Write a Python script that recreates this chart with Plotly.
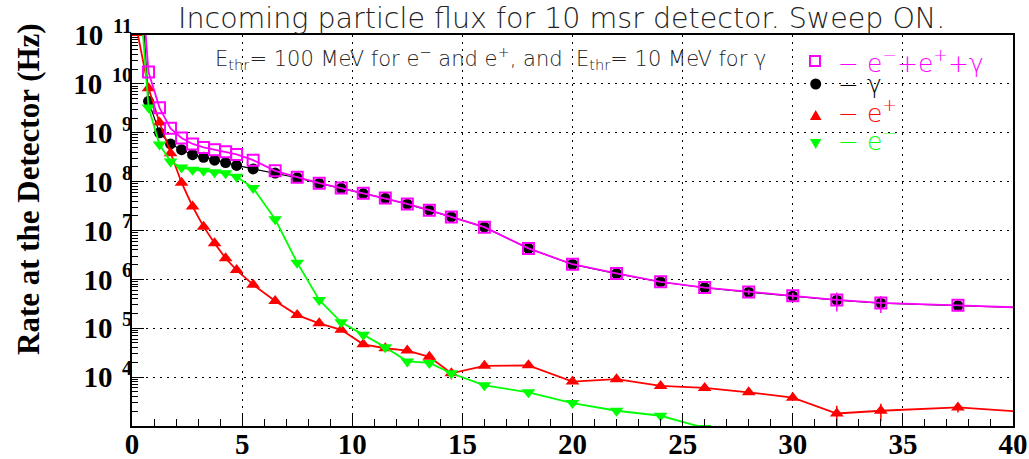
import plotly.graph_objects as go

# ---------------- data ----------------
x_bins = [0.25, 0.75, 1.25, 1.75, 2.25, 2.75, 3.25, 3.75, 4.25, 4.75, 5.5, 6.5, 7.5, 8.5, 9.5,
          10.5, 11.5, 12.5, 13.5, 14.5, 16, 18, 20, 22, 24, 26, 28, 30, 32, 34, 37.5, 42]

rate_total = [1.6e13, 1.74e10, 3.24e9, 1.23e9, 7.8e8, 5.9e8, 5.0e8, 4.5e8, 4.1e8, 3.6e8, 2.75e8,
              1.66e8, 1.23e8, 9.3e7, 7.4e7, 5.75e7, 4.6e7, 3.5e7, 2.6e7, 1.9e7, 1.17e7, 4.3e6,
              2.04e6, 1.32e6, 8.9e5, 6.8e5, 5.5e5, 4.6e5, 3.8e5, 3.3e5, 2.95e5, 2.5e5]
err_total = [0, 0, 0, 0, 0, 0, 0, 0, 0, 0, 0, 0, 0, 0, 0, 0, 0, 0, 0, 0, 0, 0,
             0, 0, 0, 0, 6.6e4, 7.0e4, 1.6e5, 1.25e5, 0, 0]

rate_gamma = [1.26e13, 4.4e9, 1.0e9, 5.9e8, 4.5e8, 3.55e8, 3.15e8, 2.75e8, 2.45e8, 2.15e8, 1.82e8,
              1.5e8, 1.2e8, 9.2e7, 7.3e7, 5.7e7, 4.55e7, 3.45e7, 2.6e7, 1.9e7, 1.17e7, 4.3e6,
              2.03e6, 1.31e6, 8.85e5, 6.75e5, 5.45e5, 4.55e5, 3.75e5, 3.25e5, 2.9e5, 2.5e5]

rate_positron = [1.1e11, 8.1e9, 1.62e9, 3.8e8, 9.5e7, 3.1e7, 1.2e7, 5.5e6, 2.7e6, 1.55e6, 7.8e5,
                 3.6e5, 1.86e5, 1.26e5, 9.3e4, 4.7e4, 3.9e4, 3.5e4, 2.6e4, 1.2e4, 1.7e4, 1.74e4,
                 8.1e3, 9.1e3, 6.6e3, 6.0e3, 4.9e3, 3.8e3, 1.8e3, 2.05e3, 2.4e3, 1.75e3]
err_positron = [0, 0, 0, 0, 0, 0, 0, 0, 0, 0, 0, 0, 0, 0, 0, 0, 0, 0, 0, 3.0e3, 0, 0,
                0, 0, 0, 0, 0, 0, 8.0e2, 8.0e2, 5.0e2, 0]

rate_electron = [3.2e12, 3.3e9, 5.75e8, 2.57e8, 1.95e8, 1.74e8, 1.66e8, 1.55e8, 1.48e8, 1.26e8,
                 7.4e7, 1.7e7, 2.2e6, 3.8e5, 1.32e5, 7.4e4, 4.1e4, 2.1e4, 1.95e4, 1.2e4, 6.8e3,
                 4.9e3, 2.95e3, 2.05e3, 1.62e3, 9.1e2, 6.3e2, 5.0e2, 5.6e2, 5.0e2, 4.5e2, 4.0e2]

x_ticks = [0, 5, 10, 15, 20, 25, 30, 35, 40]
y_tick_vals = [1e4, 1e5, 1e6, 1e7, 1e8, 1e9, 1e10, 1e11]
y_exponents = ["4", "5", "6", "7", "8", "9", "10", "11"]
y_minor_vals = [k * 10 ** d for d in range(3, 11) for k in range(2, 10)]

title_text = "Incoming particle flux for 10 msr detector. Sweep ON."
note_text = ("E<sub>thr</sub>= 100 MeV for e<sup>\u2212</sup> and e<sup>+</sup>, and  "
             "E<sub>thr</sub>= 10 MeV for \u03b3")
legend_rows = [
    ("\u2212 e<sup>\u2212</sup>+e<sup>+</sup>+\u03b3", "#ff00ff"),
    ("\u2212 \u03b3", "#000000"),
    ("\u2212 e<sup>+</sup>", "#ff0000"),
    ("\u2212 e<sup>\u2212</sup>", "#00ff00"),
]
ytitle = "Rate at the Detector (Hz)"

# ---------------- layout geometry ----------------
W, H = 1029, 459
L, R, T, B = 132, 16, 35, 33
PW = W - L - R
PH = H - T - B


def px(xp):
    return (xp - L) / PW


def py(yp):
    return (H - B - yp) / PH


THIN = "DejaVu Sans"
SERIF = "Liberation Serif"

y_tick_text = ["10 \u200a<sup>" + e + "</sup>" for e in y_exponents]

fig = go.Figure()

fig.add_trace(go.Scatter(
    x=x_bins, y=rate_gamma, mode="lines+markers", name="gamma",
    line=dict(color="#000000", width=1.2),
    marker=dict(symbol="circle", size=11, color="#000000"),
    showlegend=False))

fig.add_trace(go.Scatter(
    x=x_bins, y=rate_positron, mode="lines+markers", name="e+",
    line=dict(color="#ff0000", width=1.8),
    marker=dict(symbol="triangle-up", size=12, color="#ff0000"),
    error_y=dict(type="data", array=err_positron, color="#ff0000", thickness=1.5, width=0),
    showlegend=False))

fig.add_trace(go.Scatter(
    x=x_bins, y=rate_electron, mode="lines+markers", name="e-",
    line=dict(color="#00ff00", width=1.8),
    marker=dict(symbol="triangle-down", size=12, color="#00ff00"),
    showlegend=False))

fig.add_trace(go.Scatter(
    x=x_bins, y=rate_total, mode="lines+markers", name="total",
    line=dict(color="#ff00ff", width=1.8),
    marker=dict(symbol="square-open", size=11, color="#ff00ff",
                line=dict(width=2, color="#ff00ff")),
    error_y=dict(type="data", array=err_total, color="#ff00ff", thickness=1.5, width=0),
    showlegend=False))

grid_dash = "2px,5px"

fig.update_xaxes(
    range=[0, 40], tickmode="array", tickvals=x_ticks, automargin=False,
    ticks="inside", ticklen=12, tickwidth=1, tickcolor="black", ticklabelstandoff=-9,
    minor=dict(dtick=1, ticks="inside", ticklen=7, tickwidth=1, tickcolor="black", showgrid=False),
    showgrid=True, gridcolor="black", gridwidth=1, griddash=grid_dash,
    showline=True, linecolor="black", linewidth=2, mirror=True, zeroline=False,
    tickfont=dict(family=SERIF, size=29, color="black", weight="bold"),
)

fig.update_yaxes(
    type="log", range=[3, 11], tickmode="array", tickvals=y_tick_vals, ticktext=y_tick_text,
    automargin=False, ticklabelstandoff=-8,
    ticks="inside", ticklen=12, tickwidth=1, tickcolor="black",
    minor=dict(tickmode="array", tickvals=y_minor_vals, ticks="inside", ticklen=6,
               tickwidth=1, tickcolor="black", showgrid=False),
    showgrid=True, gridcolor="black", gridwidth=1, griddash=grid_dash,
    showline=True, linecolor="black", linewidth=2, mirror=True, zeroline=False,
    tickfont=dict(family=SERIF, size=29, color="black", weight="bold"),
)

annotations = [
    dict(text=title_text, xref="paper", yref="paper", x=px(561), y=py(19),
         xanchor="center", yanchor="middle", showarrow=False,
         font=dict(family=THIN, size=28.5, color="#222222", weight=200)),
    dict(text=note_text, xref="paper", yref="paper", x=px(213), y=py(58),
         xanchor="left", yanchor="middle", showarrow=False,
         font=dict(family=THIN, size=21, color="#222222", weight=200)),
    dict(text=ytitle, xref="paper", yref="paper", x=px(28), y=py(189),
         xanchor="center", yanchor="middle", showarrow=False, textangle=-90,
         font=dict(family=SERIF, size=31, color="black", weight="bold")),
]
row_y = [61, 84, 111, 139]
for (txt, col), yy in zip(legend_rows, row_y):
    annotations.append(dict(text=txt, xref="paper", yref="paper", x=px(836), y=py(yy),
                            xanchor="left", yanchor="middle", showarrow=False,
                            font=dict(family=THIN, size=25, color=col, weight=200)))


def tri(cx, cy, w, h, up=True):
    if up:
        pts = [(cx, cy - h / 2), (cx - w / 2, cy + h / 2), (cx + w / 2, cy + h / 2)]
    else:
        pts = [(cx - w / 2, cy - h / 2), (cx + w / 2, cy - h / 2), (cx, cy + h / 2)]
    return "M " + " L ".join(f"{px(a):.5f},{py(b):.5f}" for a, b in pts) + " Z"


shapes = [
    dict(type="rect", xref="paper", yref="paper", x0=px(810), x1=px(820), y0=py(66), y1=py(56),
         line=dict(color="#ff00ff", width=2), fillcolor="rgba(0,0,0,0)"),
    dict(type="circle", xref="paper", yref="paper", x0=px(810.2), x1=px(821.2), y0=py(89.5),
         y1=py(78.5), line=dict(width=0), fillcolor="#000000"),
    dict(type="path", xref="paper", yref="paper", path=tri(815.7, 115, 11.5, 10, True),
         line=dict(width=0), fillcolor="#ff0000"),
    dict(type="path", xref="paper", yref="paper", path=tri(815.7, 144, 11.5, 10, False),
         line=dict(width=0), fillcolor="#00ff00"),
]

fig.update_layout(
    width=W, height=H, margin=dict(l=L, r=R, t=T, b=B, pad=0, autoexpand=False),
    paper_bgcolor="white", plot_bgcolor="white",
    showlegend=False, annotations=annotations, shapes=shapes,
)

fig.write_html("out.html")
